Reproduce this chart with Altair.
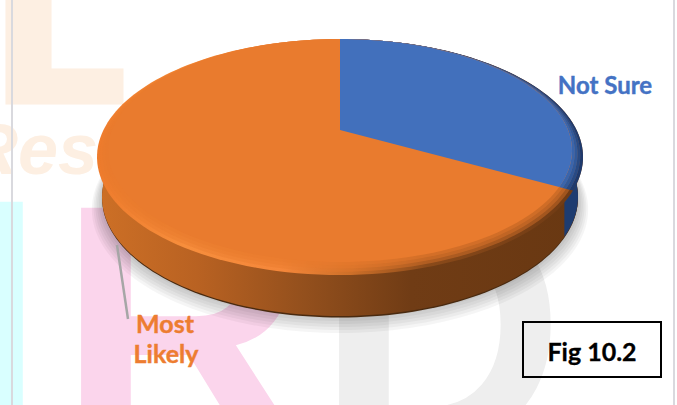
import math
import altair as alt
import pandas as pd

# Survey responses, as percentage shares of the pie
categories = ["Not Sure", "Most Likely"]
shares = [33, 67]
series_colors = ["#4472c4", "#ed7d31"]

W, H = 677, 405
CX = 340

x_scale = alt.Scale(domain=[0, W], range=[0, W], nice=False, zero=False)
y_scale = alt.Scale(domain=[0, H], range=[0, H], nice=False, zero=False)
X = lambda f="x": alt.X(f"{f}:Q", scale=x_scale, axis=None)
Y = lambda f="y": alt.Y(f"{f}:Q", scale=y_scale, axis=None)


def disc(back, apex, front, halfwidth):
    """Perspective view of a flat circular disc: maps a clock angle (degrees) to page x, y."""
    c = (2 * apex - back - front) / (front - back)
    a = front - apex + front * c
    r = halfwidth * math.sqrt(1 - c * c)

    def at(deg, cx=CX):
        t = math.radians(deg)
        u, v = math.sin(t), -math.cos(t)
        d = 1 + c * v
        return cx + r * u / d, (a * v + apex) / d

    return at


def ring(at, start=0.0, stop=360.0, step=2.0):
    n = int(round((stop - start) / step))
    return [at(start + (stop - start) * i / n) for i in range(n + 1)]


def polygon(points, fill, opacity=1.0):
    df = pd.DataFrame(points, columns=["x", "y"]).reset_index()
    return alt.Chart(df).mark_line(
        filled=True, fill=fill, opacity=opacity, strokeWidth=0
    ).encode(x=X(), y=Y(), order=alt.Order("index:Q"))


def hgrad(*stops):
    return alt.Gradient(
        gradient="linear",
        x1=0, x2=1, y1=0, y2=0,
        stops=[alt.GradientStop(offset=o, color=c) for o, c in stops],
    )


def note(text, x, y, size, color, font="Lato", weight="bold", align="center", **kw):
    df = pd.DataFrame({"t": [text], "x": [x], "y": [y]})
    return alt.Chart(df).mark_text(
        font=font, fontWeight=weight, fontSize=size, color=color,
        align=align, baseline="alphabetic", **kw
    ).encode(x=X(), y=Y(), text="t:N")


def segment(x, y, x2, y2, color, width):
    df = pd.DataFrame({"x": [x], "y": [y], "x2": [x2], "y2": [y2]})
    return alt.Chart(df).mark_rule(color=color, strokeWidth=width).encode(
        x=X(), y=Y(), x2="x2:Q", y2="y2:Q"
    )


# Angle at which the first slice ends, clockwise from twelve o'clock
split = 360 * shares[0] / sum(shares)
APEX = 130
FLAT_FRONT, OUTER_FRONT = 262, 275
FLAT_HALF, OUTER_HALF = 232, 243

flat = disc(39, APEX, FLAT_FRONT, FLAT_HALF)
outer = disc(39, APEX, OUTER_FRONT, OUTER_HALF)
base = disc(78, 198, 316, 238)

layers = []

# Pale background lettering
wm = "Liberation Sans"
layers += [
    note("L", -12, 102, 218, "#fdefe2", font="DejaVu Sans", align="left",
         stroke="#fdefe2", strokeWidth=5),
    note("Rese", -34, 174, 72, "#fdefe2", font=wm, align="left", fontStyle="italic"),
    note("I", -50, 439, 345, "#d9ffff", font=wm, align="left"),
    note("R", 58, 445, 345, "#fbd5ec", font=wm, align="left"),
    note("D", 316, 445, 345, "#eeeeee", font=wm, align="left"),
]

# Page rules
layers += [
    segment(12, 0, 12, H, "#d9d9de", 2),
    segment(674, 0, 674, H, "#d9d9de", 2),
]

# Soft shadow under the pie
for grow in [17, 14, 11, 8, 5, 2]:
    sh = disc(78 + 8, 198 + 8, 316 + grow, 238 + grow * 0.6)
    layers.append(polygon(ring(sh), "#000000", opacity=0.04))

# Side wall
layers.append(polygon(ring(disc(78, 198, 317.5, 238)), "#4a2a0f"))
layers.append(polygon(ring(base), hgrad(
    (0.0, "#cc6f26"), (0.2, "#b96222"), (0.42, "#94501d"),
    (0.65, "#703c15"), (1.0, "#693812"),
)))
wall_cap = [p for p in ring(base, step=0.5) if p[0] >= 564]
layers.append(polygon(wall_cap, "#1e3c70"))

# Bevelled rim around the top face, shaded in steps towards the flat area
layers.append(polygon(ring(outer), hgrad(
    (0.0, "#ee7b2c"), (0.18, "#f78e3c"), (0.38, "#f5873a"),
    (0.52, "#cf7029"), (0.68, "#8a4a1a"), (1.0, "#6e3a14"),
)))
layers.append(polygon([(CX, APEX)] + ring(outer, 0, split), "#1e3a6e"))
for k, blue_step in zip([0.25, 0.5, 0.75], ["#284a84", "#31599a", "#3a65ac"]):
    step_disc = disc(
        39, APEX,
        OUTER_FRONT + (FLAT_FRONT - OUTER_FRONT) * k,
        OUTER_HALF + (FLAT_HALF - OUTER_HALF) * k,
    )
    layers.append(polygon(ring(step_disc), "#e97b2e", opacity=0.4))
    layers.append(polygon([(CX, APEX)] + ring(step_disc, 0, split), blue_step))

# Flat top face with both slices
layers.append(polygon(ring(flat), "#e97b2e"))
layers.append(polygon([(CX, APEX)] + ring(flat, 0, split), "#4270bc"))

# Slice labels and leader
layers += [
    note(categories[0], 605, 94, 24, series_colors[0], stroke=series_colors[0], strokeWidth=0.4),
    note("Most", 165, 333, 25, series_colors[1], stroke=series_colors[1], strokeWidth=0.4),
    note("Likely", 166, 363, 25, series_colors[1], stroke=series_colors[1], strokeWidth=0.4),
    segment(117, 245, 128, 319, "#a6a6a6", 2.5),
]

# Figure tag
box = pd.DataFrame({"x": [523], "y": [322], "x2": [661], "y2": [377]})
layers.append(
    alt.Chart(box).mark_rect(fillOpacity=0, stroke="#000000", strokeWidth=2).encode(
        x=X(), y=Y(), x2="x2:Q", y2="y2:Q"
    )
)
layers.append(note("Fig 10.2", 592, 361, 25, "#000000", stroke="#000000", strokeWidth=0.3))

chart = (
    alt.layer(*layers)
    .properties(width=W, height=H, padding=0, autosize=alt.AutoSizeParams(type="none"), background="#ffffff")
    .configure_view(stroke=None, clip=False)
)

chart.save("out.html", embed_options={"renderer": "svg", "actions": False})
